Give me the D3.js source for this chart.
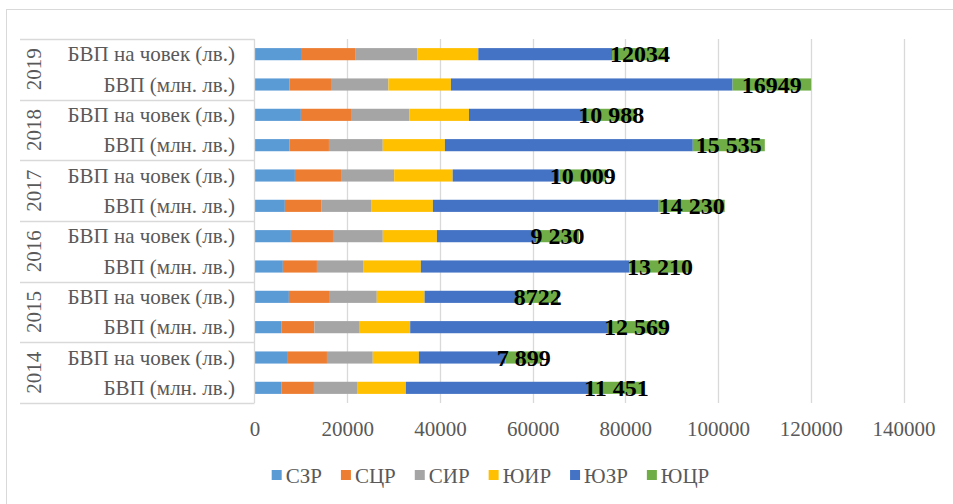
<!DOCTYPE html>
<html><head><meta charset="utf-8">
<script src="https://cdn.jsdelivr.net/npm/d3@7"></script>
<style>body{margin:0;background:#fff}svg{display:block}</style>
</head><body>
<svg id="c" width="953" height="504"></svg>
<script>
const years = ["2019","2018","2017","2016","2015","2014"];
const measures = ["БВП на човек (лв.)", "БВП (млн. лв.)"];
const regions = ["СЗР","СЦР","СИР","ЮИР","ЮЗР","ЮЦР"];
const colors = ["#5B9BD5","#ED7D31","#A5A5A5","#FFC000","#4472C4","#70AD47"];
// per capita values, years 2019..2014
const perCapita = {
  "СЗР": [10230, 10010, 8720, 7850, 7420, 7200],
  "СЦР": [11610, 10810, 9950, 9080, 8650, 8430],
  "СИР": [13340, 12540, 11460, 10745, 10310, 9880],
  "ЮИР": [13100, 12900, 12620, 11675, 10310, 9950],
  "ЮЗР": [28840, 25210, 23070, 21400, 20030, 18680],
  "ЮЦР": [12034, 10988, 10009, 9230, 8722, 7899]
};
// GDP million lv, years 2019..2014
const gdp = {
  "СЗР": [7500, 7500, 6550, 6120, 5770, 5770],
  "СЦР": [9000, 8560, 7935, 7350, 7135, 7050],
  "СИР": [12400, 11610, 10660, 9950, 9800, 9300],
  "ЮИР": [13470, 13405, 13340, 12470, 10880, 10530],
  "ЮЗР": [60760, 53470, 48710, 44970, 42660, 39680],
  "ЮЦР": [16949, 15535, 14230, 13210, 12569, 11451]
};
const perCapitaLabels = ["12034", "10 988", "10 009", "9 230", "8722", "7 899"];
const gdpLabels = ["16949", "15 535", "14 230", "13 210", "12 569", "11 451"];
const tickValues = [0, 20000, 40000, 60000, 80000, 100000, 120000, 140000];

// build rows
const rows = [];
years.forEach((yr, i) => {
  const a = {key: yr + "|0", year: yr, measure: measures[0], label: perCapitaLabels[i]};
  const b = {key: yr + "|1", year: yr, measure: measures[1], label: gdpLabels[i]};
  regions.forEach(r => { a[r] = perCapita[r][i]; b[r] = gdp[r][i]; });
  rows.push(a, b);
});

const svg = d3.select("#c");
const serif = "'Liberation Serif','Times New Roman',serif";
const gray = "#595959";
const lineCol = "#D9D9D9";
const fs = 21;

svg.append("rect").attr("x", 6.5).attr("y", 9.5).attr("width", 1000).attr("height", 1000)
  .attr("fill", "none").attr("stroke", lineCol);

const x = d3.scaleLinear().domain([0, 140000]).range([254.5, 903.5]);
const y = d3.scaleBand().domain(rows.map(d => d.key)).range([39, 403]).paddingInner(0.6).paddingOuter(0.3);
const plotTop = 39, plotBottom = 403;

// gridlines
svg.append("g").selectAll("line").data(tickValues.slice(1)).join("line")
  .attr("x1", d => Math.round(x(d)) + 0.5).attr("x2", d => Math.round(x(d)) + 0.5)
  .attr("y1", plotTop).attr("y2", plotBottom).attr("stroke", lineCol).attr("stroke-width", 1.3);

// stacked bars
const stack = d3.stack().keys(regions)(rows);
const color = d3.scaleOrdinal().domain(regions).range(colors);
svg.append("g").selectAll("g").data(stack).join("g").attr("fill", s => color(s.key))
  .selectAll("rect").data(s => s).join("rect")
  .attr("x", d => x(d[0])).attr("width", d => x(d[1]) - x(d[0]))
  .attr("y", d => y(d.data.key)).attr("height", y.bandwidth());

// data labels centered on last segment
const last = stack[stack.length - 1];
svg.append("g").selectAll("text").data(last).join("text")
  .attr("x", d => (x(d[0]) + x(d[1])) / 2).attr("y", d => y(d.data.key) + y.bandwidth() / 2)
  .attr("text-anchor", "middle").attr("dominant-baseline", "central")
  .attr("font-family", serif).attr("font-weight", "bold").attr("font-size", 24).attr("fill", "#000")
  .text(d => d.data.label);

// category table
const tab = svg.append("g");
tab.append("line").attr("x1", 254.5).attr("x2", 254.5).attr("y1", plotTop).attr("y2", plotBottom).attr("stroke", lineCol).attr("stroke-width", 1.3);
const sepYs = d3.range(0, 7).map(i => plotTop + i * (plotBottom - plotTop) / 6);
tab.selectAll("line.sep").data(sepYs).join("line").attr("class", "sep")
  .attr("x1", 20).attr("x2", 254.5).attr("y1", d => Math.round(d) + 0.5).attr("y2", d => Math.round(d) + 0.5)
  .attr("stroke", lineCol).attr("stroke-width", 1.3);

tab.selectAll("text.cat").data(rows).join("text").attr("class", "cat")
  .attr("x", 235).attr("y", d => y(d.key) + y.bandwidth() / 2)
  .attr("text-anchor", "end").attr("dominant-baseline", "central")
  .attr("font-family", serif).attr("font-size", fs).attr("fill", gray)
  .text(d => d.measure);

tab.selectAll("text.yr").data(years).join("text").attr("class", "yr")
  .attr("transform", (d, i) => `translate(34,${(sepYs[i] + sepYs[i + 1]) / 2}) rotate(-90)`)
  .attr("text-anchor", "middle").attr("dominant-baseline", "central")
  .attr("font-family", serif).attr("font-size", fs).attr("fill", gray)
  .text(d => d);

// x axis
const ax = svg.append("g").attr("transform", `translate(0,${plotBottom})`)
  .call(d3.axisBottom(x).tickValues(tickValues).tickFormat(d3.format("d")).tickSize(0).tickPadding(18));
ax.select(".domain").remove();
ax.selectAll("text").attr("font-family", serif).attr("font-size", fs).attr("fill", gray);

// legend
const lg = svg.append("g");
const items = lg.selectAll("g").data(regions).join("g");
items.append("rect").attr("width", 10).attr("height", 10).attr("y", -10).attr("fill", d => color(d));
items.append("text").attr("x", 14).attr("y", 0).attr("dy", 3)
  .attr("font-family", serif).attr("font-size", fs).attr("fill", gray).text(d => d);
let cx = 0;
const pos = [];
items.each(function () {
  const w = 14 + this.querySelector("text").getComputedTextLength();
  pos.push(cx); cx += w + 19;
});
const total = cx - 19;
const lx = 490.5 - total / 2;
items.attr("transform", (d, i) => `translate(${lx + pos[i]},480)`);
</script>
</body></html>
